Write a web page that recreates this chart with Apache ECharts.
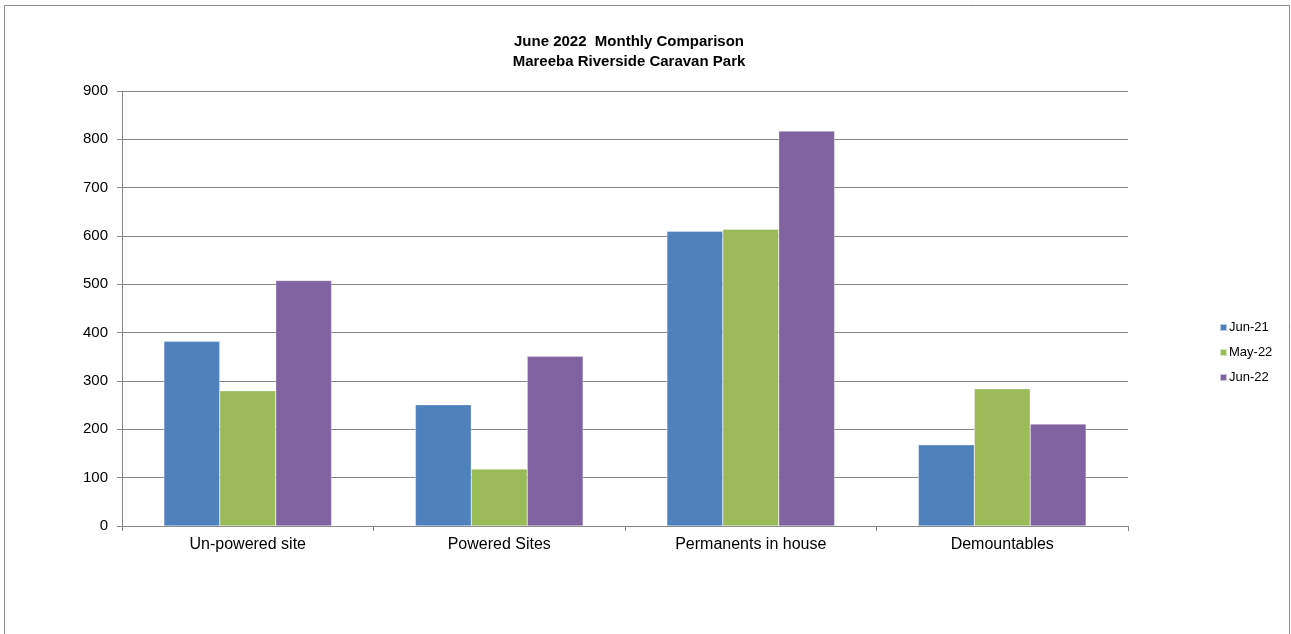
<!DOCTYPE html>
<html>
<head>
<meta charset="utf-8">
<script src="https://cdn.jsdelivr.net/npm/echarts@6/dist/echarts.min.js"></script>
<style>
  html, body { margin: 0; padding: 0; background: #fff; }
  #chart { width: 1291px; height: 634px; }
</style>
</head>
<body>
<div id="chart"></div>
<script>
const categories = ["Un-powered site", "Powered Sites", "Permanents in house", "Demountables"];
const jun21 = [382, 251, 610, 168];
const may22 = [280, 118, 614, 284];
const jun22 = [508, 351, 817, 211];
const seriesNames = ["Jun-21", "May-22", "Jun-22"];
const colors = ["#4F81BD", "#9BBB59", "#8064A2"];

const axisGray = "#868686";
const chart = echarts.init(document.getElementById("chart"));

const barSeries = (name, data, color) => ({
  name,
  type: "bar",
  data,
  barGap: "0%",
  barCategoryGap: "33.3%",
  itemStyle: { color, borderColor: "rgba(255,255,255,0.6)", borderWidth: 0.5 }
});

chart.setOption({
  animation: false,
  backgroundColor: "#fff",
  graphic: [
    {
      type: "rect",
      shape: { x: 4.5, y: 5.5, width: 1285, height: 640 },
      style: { fill: "none", stroke: "#8a8a8a", lineWidth: 1 }
    }
  ],
  title: {
    text: "June 2022  Monthly Comparison\nMareeba Riverside Caravan Park",
    left: 624,
    textAlign: "center",
    top: 27,
    textStyle: {
      fontFamily: "Liberation Sans",
      fontWeight: "bold",
      fontSize: 15,
      lineHeight: 20,
      color: "#000"
    }
  },
  legend: {
    orient: "vertical",
    left: 1214,
    top: 316,
    itemWidth: 7,
    itemHeight: 7,
    itemGap: 12,
    icon: "rect",
    textStyle: { fontFamily: "Liberation Sans", fontSize: 13, color: "#000", padding: [0, 0, 0, -3] },
    data: seriesNames
  },
  grid: { left: 122, right: 163, top: 91, bottom: 108 },
  xAxis: {
    type: "category",
    data: categories,
    axisLine: { lineStyle: { color: axisGray, width: 1 } },
    axisTick: { show: true, alignWithLabel: false, length: 5, lineStyle: { color: axisGray } },
    axisLabel: { fontFamily: "Liberation Sans", fontSize: 16, color: "#000", margin: 11 }
  },
  yAxis: {
    type: "value",
    min: 0,
    max: 900,
    interval: 100,
    axisLine: { show: true, lineStyle: { color: axisGray, width: 1 } },
    axisTick: { show: true, length: 5, lineStyle: { color: axisGray } },
    axisLabel: { fontFamily: "Liberation Sans", fontSize: 15, color: "#000", margin: 14 },
    splitLine: { lineStyle: { color: axisGray, width: 1 } }
  },
  series: [
    barSeries(seriesNames[0], jun21, colors[0]),
    barSeries(seriesNames[1], may22, colors[1]),
    barSeries(seriesNames[2], jun22, colors[2])
  ]
});
</script>
</body>
</html>
